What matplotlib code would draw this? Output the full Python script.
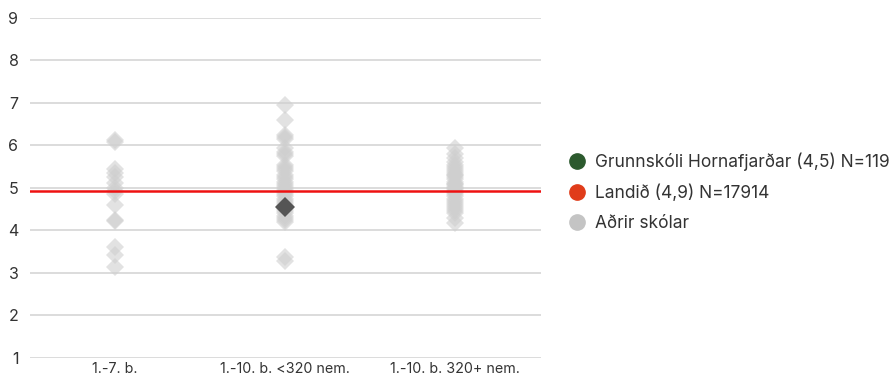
import numpy as np
import matplotlib.pyplot as plt
from matplotlib.lines import Line2D

plt.rcParams['font.family'] = ['Inter', 'DejaVu Sans']

categories = ["1.-7. b.", "1.-10. b. <320 nem.", "1.-10. b. 320+ nem."]

# other schools per category
others_small = [6.12, 6.07, 5.45, 5.35, 5.25, 5.12, 5.0, 4.92, 4.85, 4.6, 4.25, 4.22, 3.6, 3.42, 3.14]
others_mid = [6.95, 6.6, 6.25, 6.2, 6.15, 5.95, 5.85, 5.8, 5.75, 5.55, 5.5, 5.45, 5.4,
              5.3, 5.25, 5.2, 5.15, 5.1, 5.05, 5.0, 4.95, 4.9, 4.85, 4.8, 4.75, 4.7,
              4.65, 4.6, 4.5, 4.45, 4.4, 4.35, 4.3, 4.25, 4.2, 3.38, 3.28]
others_large = [5.95, 5.8, 5.7, 5.6, 5.55, 5.5, 5.45, 5.4, 5.35, 5.3, 5.3, 5.25, 5.2,
                5.15, 5.1, 5.1, 5.05, 5.0, 5.0, 4.95, 4.9, 4.9, 4.85, 4.8, 4.75, 4.7,
                4.65, 4.6, 4.55, 4.5, 4.45, 4.4, 4.3, 4.18]
others = [others_small, others_mid, others_large]

school_cat = 1
school_value = 4.55
national_value = 4.92

labels = ["Grunnskóli Hornafjarðar (4,5) N=119", "Landið (4,9) N=17914", "Aðrir skólar"]

fig = plt.figure(figsize=(8.95, 3.82), dpi=100)
ax = fig.add_axes([0.033, 0.063, 0.571, 0.89])

ax.set_ylim(1, 9)
ax.set_xlim(-0.5, 2.5)
ax.set_yticks(range(1, 10))
ax.yaxis.grid(True, color="#d9d9d9", linewidth=1.3)
ax.set_axisbelow(True)
for s in ax.spines.values():
    s.set_visible(False)
ax.tick_params(axis="both", length=0, colors="#333333")
ax.tick_params(axis="y", labelsize=11.5, pad=8)
ax.tick_params(axis="x", labelsize=10.3, pad=3)
ax.set_xticks(range(len(categories)))
ax.set_xticklabels(categories)

for i, vals in enumerate(others):
    ax.plot([i] * len(vals), vals, linestyle="none", marker="D", markersize=9.5,
            color="#cfcfcf", alpha=0.6, markeredgewidth=0)

ax.axhline(national_value, color="#ee1111", linewidth=1.8)

ax.plot([school_cat], [school_value], linestyle="none", marker="D", markersize=10.5,
        color="#555555", markeredgewidth=0, zorder=5)

handles = [
    Line2D([], [], linestyle="none", marker="o", markersize=11, color="#2c5a2e"),
    Line2D([], [], linestyle="none", marker="o", markersize=11, color="#e03c1a"),
    Line2D([], [], linestyle="none", marker="o", markersize=11, color="#c4c4c4"),
]
fig.legend(handles, labels, loc="center left", bbox_to_anchor=(0.617, 0.497),
           frameon=False, fontsize=12.5, handletextpad=0.05, labelspacing=0.75,
           labelcolor="#333333", borderaxespad=0)

fig.savefig("out.png", dpi=100, facecolor="white")
